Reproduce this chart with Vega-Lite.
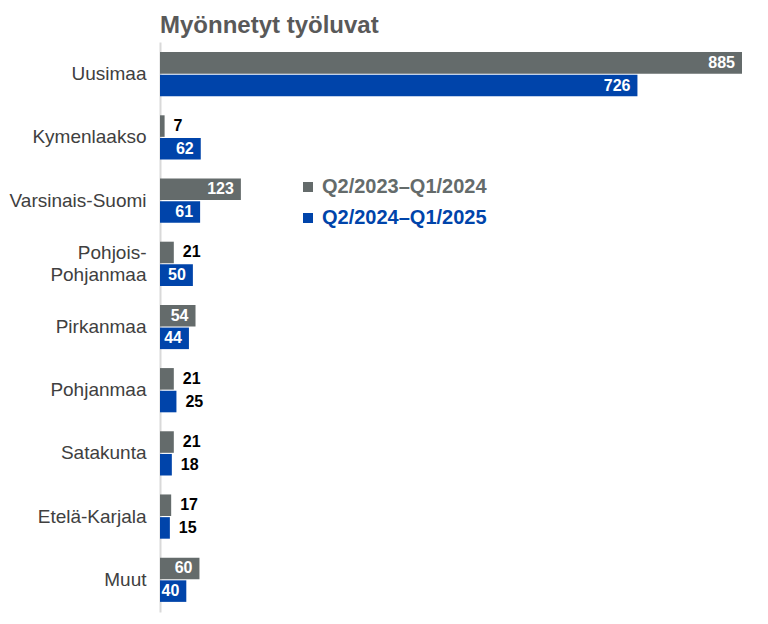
{
  "$schema": "https://vega.github.io/schema/vega-lite/v6.json",
  "description": "Myönnetyt työluvat by region, two periods",
  "autosize": {"type": "none"},
  "padding": {"left": 160, "top": 42, "right": 26, "bottom": 12},
  "width": 582,
  "height": 570,
  "background": "white",
  "config": {
    "font": "Liberation Sans",
    "view": {"stroke": null}
  },
  "title": {
    "text": "Myönnetyt työluvat",
    "anchor": "start",
    "frame": "group",
    "fontSize": 24,
    "fontWeight": "bold",
    "color": "#595959",
    "offset": 4
  },
  "data": {
    "values": [
      {"region": "Uusimaa", "period": "Q2/2023–Q1/2024", "value": 885},
      {"region": "Uusimaa", "period": "Q2/2024–Q1/2025", "value": 726},
      {"region": "Kymenlaakso", "period": "Q2/2023–Q1/2024", "value": 7},
      {"region": "Kymenlaakso", "period": "Q2/2024–Q1/2025", "value": 62},
      {"region": "Varsinais-Suomi", "period": "Q2/2023–Q1/2024", "value": 123},
      {"region": "Varsinais-Suomi", "period": "Q2/2024–Q1/2025", "value": 61},
      {"region": "Pohjois-Pohjanmaa", "period": "Q2/2023–Q1/2024", "value": 21},
      {"region": "Pohjois-Pohjanmaa", "period": "Q2/2024–Q1/2025", "value": 50},
      {"region": "Pirkanmaa", "period": "Q2/2023–Q1/2024", "value": 54},
      {"region": "Pirkanmaa", "period": "Q2/2024–Q1/2025", "value": 44},
      {"region": "Pohjanmaa", "period": "Q2/2023–Q1/2024", "value": 21},
      {"region": "Pohjanmaa", "period": "Q2/2024–Q1/2025", "value": 25},
      {"region": "Satakunta", "period": "Q2/2023–Q1/2024", "value": 21},
      {"region": "Satakunta", "period": "Q2/2024–Q1/2025", "value": 18},
      {"region": "Etelä-Karjala", "period": "Q2/2023–Q1/2024", "value": 17},
      {"region": "Etelä-Karjala", "period": "Q2/2024–Q1/2025", "value": 15},
      {"region": "Muut", "period": "Q2/2023–Q1/2024", "value": 60},
      {"region": "Muut", "period": "Q2/2024–Q1/2025", "value": 40}
    ]
  },
  "encoding": {
    "y": {
      "field": "region",
      "type": "nominal",
      "sort": null,
      "scale": {"paddingInner": 0.3, "paddingOuter": 0.16},
      "axis": {
        "title": null,
        "ticks": false,
        "grid": false,
        "domainColor": "#d9d9d9",
        "domainWidth": 2,
        "labelColor": "#404040",
        "labelFontSize": 19,
        "labelPadding": 14,
        "labelLineHeight": 22,
        "labelOffset": {
          "condition": {"test": "datum.value == 'Pohjois-Pohjanmaa'", "value": -11},
          "value": 0
        },
        "labelExpr": "datum.label == 'Pohjois-Pohjanmaa' ? ['Pohjois-', 'Pohjanmaa'] : datum.label"
      }
    },
    "yOffset": {
      "field": "period",
      "type": "nominal",
      "scale": {"paddingInner": 0.05}
    },
    "x": {
      "field": "value",
      "type": "quantitative",
      "scale": {"domain": [0, 885], "nice": false},
      "axis": null
    }
  },
  "layer": [
    {
      "mark": {"type": "bar"},
      "encoding": {
        "color": {
          "field": "period",
          "type": "nominal",
          "scale": {
            "domain": ["Q2/2023–Q1/2024", "Q2/2024–Q1/2025"],
            "range": ["#646b6b", "#0044aa"]
          },
          "legend": {
            "title": null,
            "orient": "none",
            "legendX": 138,
            "legendY": 135,
            "symbolType": "square",
            "symbolSize": 100,
            "symbolStrokeWidth": 0,
            "labelFontSize": 20,
            "labelFontWeight": "bold",
            "labelOffset": 4,
            "rowPadding": 11,
            "labelLimit": 300,
            "encode": {
              "labels": {
                "update": {
                  "fill": [
                    {"test": "datum.value === 'Q2/2023–Q1/2024'", "value": "#646b6b"},
                    {"value": "#0044aa"}
                  ]
                }
              }
            }
          }
        }
      }
    },
    {
      "transform": [{"filter": "datum.value >= 40"}],
      "mark": {
        "type": "text",
        "align": "right",
        "baseline": "middle",
        "dx": -7,
        "fontSize": 16,
        "fontWeight": "bold",
        "color": "white"
      },
      "encoding": {
        "text": {"field": "value", "type": "quantitative"}
      }
    },
    {
      "transform": [{"filter": "datum.value < 40"}],
      "mark": {
        "type": "text",
        "align": "left",
        "baseline": "middle",
        "dx": 9,
        "fontSize": 16,
        "fontWeight": "bold",
        "color": "black"
      },
      "encoding": {
        "text": {"field": "value", "type": "quantitative"}
      }
    }
  ]
}
